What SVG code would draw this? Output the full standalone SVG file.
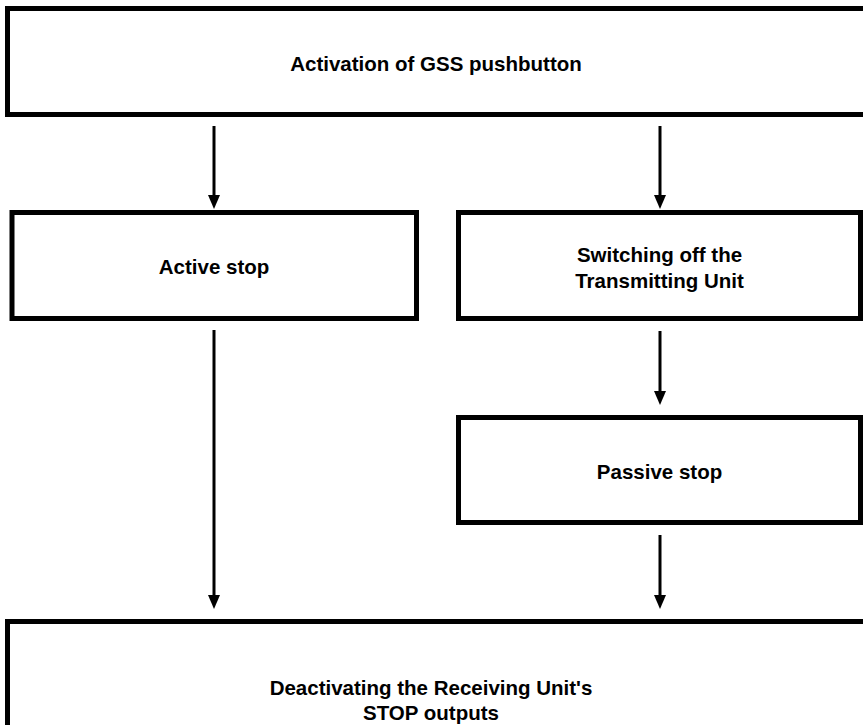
<svg xmlns="http://www.w3.org/2000/svg" width="863" height="725" viewBox="0 0 863 725">
<style>
.box{fill:#fff;stroke:#000;stroke-width:5}
.t{font-family:"Liberation Sans",Arial,sans-serif;font-weight:bold;font-size:20.5px;fill:#000;text-anchor:middle}
.c{stroke:#000;stroke-width:3;fill:none}
</style>
<defs>
<marker id="ah" markerUnits="userSpaceOnUse" markerWidth="14" markerHeight="16" refX="7" refY="14" orient="auto-start-reverse" viewBox="0 0 14 16">
<path d="M1,0 L13,0 L7,14 Z" fill="#000" transform="rotate(0)"/>
</marker>
</defs>
<rect width="863" height="725" fill="#fff"/>
<g id="connectors">
<path class="c" d="M214,126 V196"/>
<path d="M208,195 L220,195 L214,209 Z"/>
<path class="c" d="M660,126 V196"/>
<path d="M654,195 L666,195 L660,209 Z"/>
<path class="c" d="M214,330 V596"/>
<path d="M208,595 L220,595 L214,609 Z"/>
<path class="c" d="M660,331 V392"/>
<path d="M654,391 L666,391 L660,405 Z"/>
<path class="c" d="M660,535 V596"/>
<path d="M654,595 L666,595 L660,609 Z"/>
</g>
<g id="n-activation">
<rect class="box" x="7.5" y="8.5" width="870" height="106"/>
<text class="t" x="436" y="71">Activation of GSS pushbutton</text>
</g>
<g id="n-active">
<rect class="box" x="12" y="212.5" width="404.5" height="106"/>
<text class="t" x="214" y="274">Active stop</text>
</g>
<g id="n-switching">
<rect class="box" x="458.5" y="212.5" width="402" height="106"/>
<text class="t" x="659.5" y="262">Switching off the</text>
<text class="t" x="659.5" y="288">Transmitting Unit</text>
</g>
<g id="n-passive">
<rect class="box" x="458.5" y="417.5" width="402" height="105"/>
<text class="t" x="659.5" y="479">Passive stop</text>
</g>
<g id="n-deactivating">
<rect class="box" x="7.5" y="621.5" width="870" height="120"/>
<text class="t" x="431" y="695">Deactivating the Receiving Unit's</text>
<text class="t" x="431" y="720">STOP outputs</text>
</g>
</svg>
